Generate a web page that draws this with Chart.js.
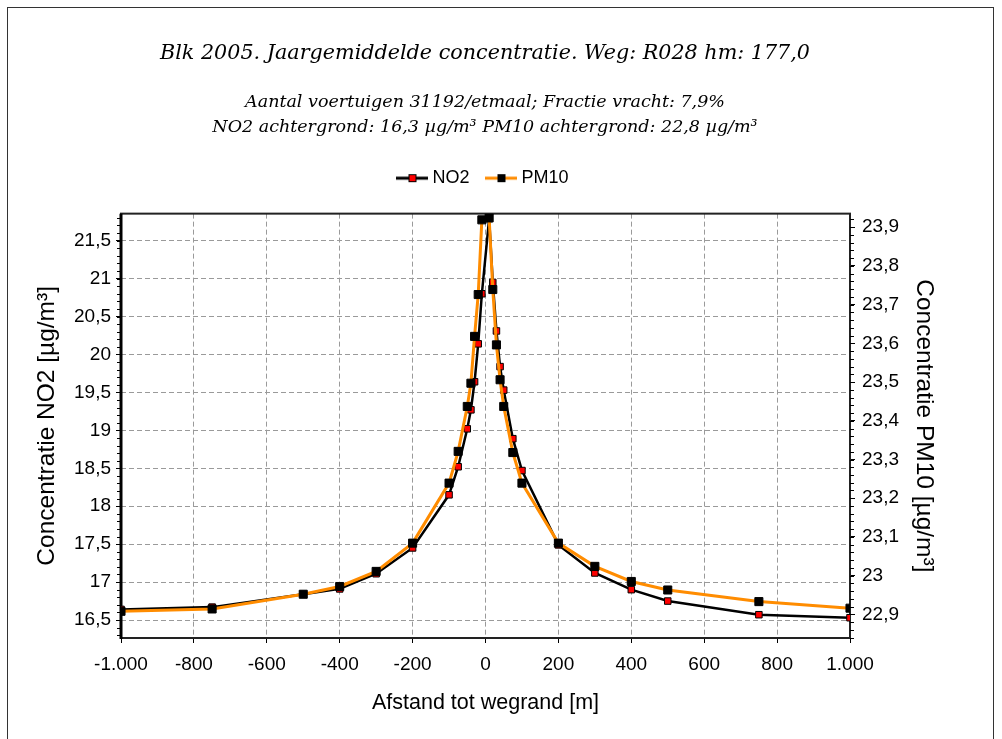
<!DOCTYPE html>
<html lang="nl">
<head>
<meta charset="utf-8">
<title>Blk 2005 - R028 hm 177,0</title>
<script src="https://cdn.jsdelivr.net/npm/chart.js@4.4.1/dist/chart.umd.min.js"></script>
<style>
  html, body { margin: 0; padding: 0; background: #fff; }
  #wrap { position: relative; width: 1002px; height: 739px; }
</style>
</head>
<body>
<div id="wrap"><canvas id="grafiek"></canvas></div>
<script>
// afstand tot wegrand [m]
const afstanden = [-1000, -750, -500, -400, -300, -200, -100, -75, -50, -40, -30, -20, -10,
                   10, 20, 30, 40, 50, 75, 100, 200, 300, 400, 500, 750, 1000];
// jaargemiddelde concentraties [µg/m³]
const no2Waarden = [16.64, 16.67, 16.84, 16.91, 17.11, 17.45, 18.15, 18.52, 19.02, 19.27, 19.64, 20.14, 20.80,
                    21.79, 20.95, 20.31, 19.84, 19.53, 18.89, 18.47, 17.49, 17.12, 16.90, 16.75, 16.57, 16.53];
const pm10Waarden = [22.908, 22.914, 22.952, 22.972, 23.011, 23.084, 23.239, 23.321, 23.437, 23.497, 23.618, 23.726, 23.919,
                     23.924, 23.739, 23.596, 23.506, 23.437, 23.318, 23.239, 23.084, 23.024, 22.985, 22.963, 22.933, 22.916];

// as-indeling
const afstandTicks = [-1000, -800, -600, -400, -200, 0, 200, 400, 600, 800, 1000];
const no2Ticks = [16.5, 17, 17.5, 18, 18.5, 19, 19.5, 20, 20.5, 21, 21.5];
const pm10Ticks = [22.9, 23, 23.1, 23.2, 23.3, 23.4, 23.5, 23.6, 23.7, 23.8, 23.9];
const no2Bereik = [16.263, 21.856];
const pm10Bereik = [22.839, 23.935];

const titel = 'Blk 2005. Jaargemiddelde concentratie. Weg: R028 hm: 177,0';
const subtitel = ['Aantal voertuigen 31192/etmaal; Fractie vracht: 7,9%',
                  'NO2 achtergrond: 16,3 µg/m³ PM10 achtergrond: 22,8 µg/m³'];

const ORANJE = '#ff8c00';

// getallen in Nederlandse notatie
function metKomma(v) {
    return String(+v.toFixed(2)).replace('.', ',');
}
function metPunt(v) {
    const s = Math.abs(v).toString().replace(/\B(?=(\d{3})+(?!\d))/g, '.');
    return (v < 0 ? '-' : '') + s;
}

// legenda-icoon: lijn met markering
function legendaIcoon(lijnKleur, vulKleur, dikte) {
    const c = document.createElement('canvas');
    c.width = 32; c.height = 10;
    const g = c.getContext('2d');
    g.strokeStyle = lijnKleur; g.lineWidth = dikte;
    g.beginPath(); g.moveTo(0, 5); g.lineTo(32, 5); g.stroke();
    g.fillStyle = vulKleur; g.fillRect(12, 1, 8, 8);
    g.strokeStyle = '#000'; g.lineWidth = 1; g.strokeRect(12.5, 1.5, 7, 7);
    return c;
}

// kader om plotgebied, kleine tickstreepjes en rand om de afbeelding
const kaderPlugin = {
    id: 'kader',
    beforeDatasetsDraw(chart) {
        const {ctx, chartArea: a} = chart;
        ctx.save();
        ctx.strokeStyle = '#222';
        ctx.lineWidth = 2;
        ctx.strokeRect(a.left, a.top, a.right - a.left, a.bottom - a.top);
        ctx.strokeStyle = '#000';
        ctx.lineWidth = 3;
        ctx.beginPath(); ctx.moveTo(a.left, a.top); ctx.lineTo(a.left, a.bottom + 1); ctx.stroke();
        // kleine ticks
        ctx.lineWidth = 1;
        const y = chart.scales.y, y1 = chart.scales.y1;
        ctx.beginPath();
        for (let v = 16.3; v < no2Bereik[1]; v += 0.1) {
            const p = Math.round(y.getPixelForValue(v)) + 0.5;
            ctx.moveTo(a.left - 4, p); ctx.lineTo(a.left, p);
        }
        for (let v = 22.84; v < pm10Bereik[1]; v += 0.02) {
            const p = Math.round(y1.getPixelForValue(v)) + 0.5;
            ctx.moveTo(a.right, p); ctx.lineTo(a.right + 4, p);
        }
        ctx.stroke();
        ctx.restore();
    },
    afterDraw(chart) {
        const ctx = chart.ctx;
        ctx.save();
        ctx.strokeStyle = '#333';
        ctx.lineWidth = 1;
        ctx.strokeRect(7.5, 7.5, 986, 800);
        ctx.restore();
    }
};

const schaalFont = { family: '"Liberation Sans", Arial, sans-serif', size: 19 };
const serif = '"DejaVu Serif", "Liberation Serif", serif';

const ctx = document.getElementById('grafiek').getContext('2d');
new Chart(ctx, {
    type: 'line',
    data: {
        datasets: [
            {
                label: 'PM10',
                data: afstanden.map((x, i) => ({ x: x, y: pm10Waarden[i] })),
                yAxisID: 'y1',
                borderColor: ORANJE,
                borderWidth: 3,
                pointStyle: 'rect',
                pointRadius: 5.7,
                pointBackgroundColor: '#000',
                pointBorderColor: '#000',
                pointBorderWidth: 1,
                tension: 0
            },
            {
                label: 'NO2',
                data: afstanden.map((x, i) => ({ x: x, y: no2Waarden[i] })),
                yAxisID: 'y',
                borderColor: '#000',
                borderWidth: 2.5,
                pointStyle: 'rect',
                pointRadius: 4.6,
                pointBackgroundColor: '#ff0000',
                pointBorderColor: '#000',
                pointBorderWidth: 1,
                tension: 0
            }
        ]
    },
    options: {
        responsive: true,
        maintainAspectRatio: false,
        animation: false,
        layout: { padding: { left: 0, right: 32, top: 0, bottom: 0 } },
        plugins: {
            title: {
                display: true,
                text: titel,
                color: '#000',
                font: { family: serif, size: 20.7, style: 'italic', weight: 'normal' },
                padding: { top: 41, bottom: 0 }
            },
            subtitle: {
                display: true,
                text: subtitel,
                color: '#000',
                font: { family: serif, size: 17.5, style: 'italic', weight: 'normal', lineHeight: 25 / 17.5 },
                padding: { top: 24.3, bottom: 8 }
            },
            legend: {
                display: true,
                position: 'top',
                labels: {
                    color: '#000',
                    font: { family: schaalFont.family, size: 18 },
                    padding: 21,
                    usePointStyle: true,
                    pointStyleWidth: 22,
                    generateLabels: () => [
                        { text: 'NO2', pointStyle: legendaIcoon('#000', '#ff0000', 3), datasetIndex: 1, fontColor: '#000', lineWidth: 0, strokeStyle: 'transparent', fillStyle: 'transparent' },
                        { text: 'PM10', pointStyle: legendaIcoon(ORANJE, '#000', 3), datasetIndex: 0, fontColor: '#000', lineWidth: 0, strokeStyle: 'transparent', fillStyle: 'transparent' }
                    ]
                }
            },
            tooltip: { enabled: false }
        },
        scales: {
            x: {
                type: 'linear',
                position: 'bottom',
                min: afstandTicks[0],
                max: afstandTicks[afstandTicks.length - 1],
                afterBuildTicks: s => { s.ticks = afstandTicks.map(v => ({ value: v })); },
                afterFit: s => { s.height = 101; },
                ticks: { color: '#000', font: schaalFont, padding: 10, maxRotation: 0, autoSkip: false, callback: v => metPunt(v) },
                grid: { color: '#9a9a9a', lineWidth: 1, tickColor: '#000', tickLength: 5, tickBorderDash: [] },
                border: { display: false, dash: [5, 3] },
                title: { display: true, text: 'Afstand tot wegrand [m]', color: '#000', font: { family: schaalFont.family, size: 21.5 }, padding: { top: 0, bottom: 23 } }
            },
            boven: {
                type: 'linear',
                position: 'top',
                display: true,
                ticks: { display: false },
                grid: { display: false },
                border: { display: false },
                afterFit: s => { s.height = 16.5; }
            },
            y: {
                type: 'linear',
                position: 'left',
                min: no2Bereik[0],
                max: no2Bereik[1],
                afterBuildTicks: s => { s.ticks = no2Ticks.map(v => ({ value: v })); },
                afterFit: s => { s.width = 121; },
                ticks: { color: '#000', font: schaalFont, padding: 5, autoSkip: false, callback: v => metKomma(v) },
                grid: { color: '#9a9a9a', lineWidth: 1, tickColor: '#000', tickLength: 5, tickBorderDash: [] },
                border: { display: false, dash: [5, 3] },
                title: { display: true, text: 'Concentratie NO2 [µg/m³]', color: '#000', font: { family: schaalFont.family, size: 24.5 }, padding: { top: 32.3, bottom: 0 } }
            },
            y1: {
                type: 'linear',
                position: 'right',
                min: pm10Bereik[0],
                max: pm10Bereik[1],
                afterBuildTicks: s => { s.ticks = pm10Ticks.map(v => ({ value: v })); },
                afterFit: s => { s.width = 120; },
                ticks: { color: '#000', font: schaalFont, padding: 7, autoSkip: false, callback: v => metKomma(v) },
                grid: { drawOnChartArea: false, tickColor: '#000', tickLength: 5 },
                border: { display: false },
                title: { display: true, text: 'Concentratie PM10 [µg/m³]', color: '#000', font: { family: schaalFont.family, size: 24.5 }, padding: { top: 31.3, bottom: 0 } }
            }
        }
    },
    plugins: [kaderPlugin]
});
</script>
</body>
</html>
